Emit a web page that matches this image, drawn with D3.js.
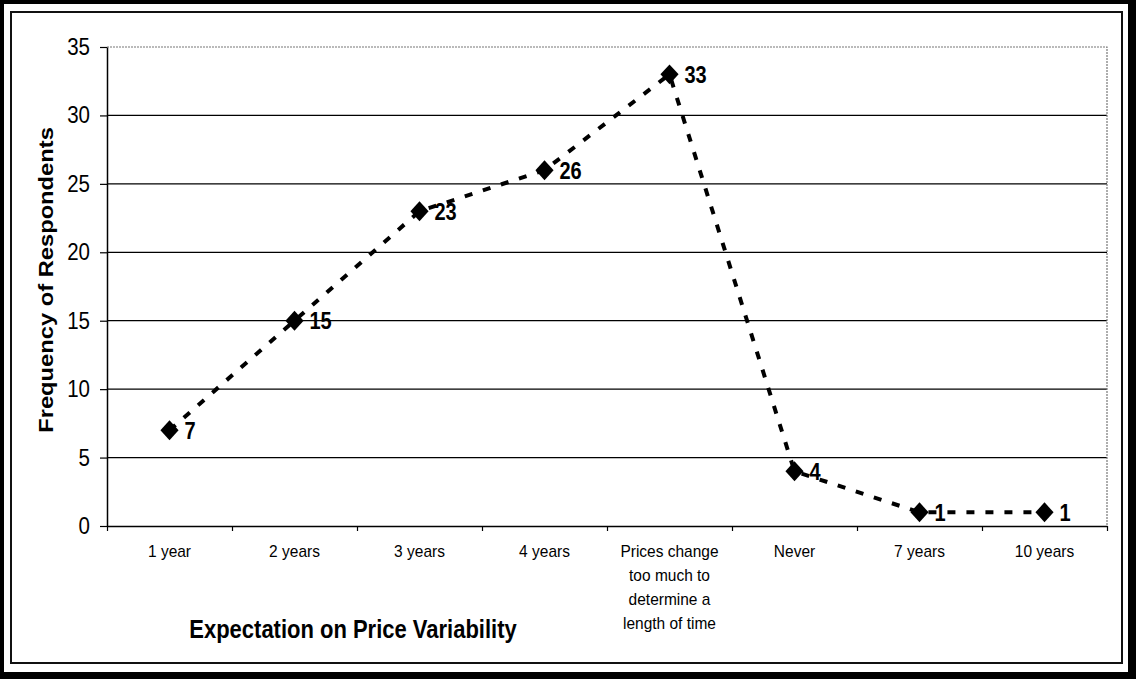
<!DOCTYPE html>
<html>
<head>
<meta charset="utf-8">
<script src="https://cdn.jsdelivr.net/npm/d3@7"></script>
<style>
  html, body { margin: 0; padding: 0; background: #fff; }
  svg { display: block; font-family: Arial, "Liberation Sans", sans-serif; }
</style>
</head>
<body>
<svg id="chart" width="1136" height="679"></svg>
<script>
// Survey responses: how long respondents expect prices to stay stable
const categories = [
  "1 year", "2 years", "3 years", "4 years",
  "Prices change\ntoo much to\ndetermine a\nlength of time",
  "Never", "7 years", "10 years"
];
const respondents = [7, 15, 23, 26, 33, 4, 1, 1];
const yTicks = [0, 5, 10, 15, 20, 25, 30, 35];
const xTitle = "Expectation on Price Variability";
const yTitle = "Frequency of Respondents";

const W = 1136, H = 679;
const plot = { left: 107, right: 1107, top: 47, bottom: 526 };
const stretch = 1.15; // glyphs are drawn slightly taller than wide

const svg = d3.select("#chart");

// Frame: heavy outer border with a thin inner rule
svg.append("rect").attr("x", 0).attr("y", 0).attr("width", W).attr("height", H).attr("fill", "#000");
svg.append("rect").attr("x", 4).attr("y", 4).attr("width", 1124).attr("height", 668).attr("fill", "#fff");
svg.append("rect").attr("x", 11).attr("y", 12).attr("width", 1111).attr("height", 651)
  .attr("fill", "none").attr("stroke", "#111").attr("stroke-width", 2);

const x = d3.scaleBand().domain(categories).range([plot.left, plot.right]).padding(0);
const xEdges = d3.scaleLinear().domain([0, categories.length]).range([plot.left, plot.right]);
const y = d3.scaleLinear().domain([0, 35]).range([plot.bottom, plot.top]);

// Horizontal gridlines
svg.append("g")
  .selectAll("line")
  .data(yTicks.filter(t => t > 0 && t < 35))
  .join("line")
  .attr("x1", plot.left).attr("x2", plot.right)
  .attr("y1", d => y(d)).attr("y2", d => y(d))
  .attr("stroke", "#000").attr("stroke-width", 1.2);

// Plot-area border on top and right (light dotted)
svg.append("path")
  .attr("d", `M${plot.left},${y(35)}H${plot.right}V${plot.bottom}`)
  .attr("fill", "none").attr("stroke", "#777").attr("stroke-width", 1.2)
  .attr("stroke-dasharray", "2,1");

// Y axis
const yAxis = svg.append("g")
  .attr("transform", `translate(${plot.left},0)`)
  .call(d3.axisLeft(y).tickValues(yTicks).tickSize(7).tickPadding(10).tickSizeOuter(0));
yAxis.select(".domain").attr("stroke", "#000").attr("stroke-width", 1.5);
yAxis.selectAll(".tick line").attr("stroke", "#000").attr("stroke-width", 1.2);
yAxis.selectAll(".tick text")
  .attr("font-size", 20.5).attr("fill", "#000")
  .attr("font-family", 'Arial, "Liberation Sans", sans-serif')
  .attr("dy", "0.32em")
  .attr("transform", `scale(1,${stretch})`)
  .attr("y", 0);

// X axis: baseline with boundary ticks
const xEdgeAxis = svg.append("g")
  .attr("transform", `translate(0,${plot.bottom})`)
  .call(d3.axisBottom(xEdges).tickValues(d3.range(categories.length + 1))
    .tickFormat("").tickSize(5).tickSizeOuter(0));
xEdgeAxis.select(".domain").attr("stroke", "#000").attr("stroke-width", 1.5);
xEdgeAxis.selectAll(".tick line").attr("stroke", "#000").attr("stroke-width", 1.2);

// X axis: category labels centred in each band
const xLabelAxis = svg.append("g")
  .attr("transform", `translate(0,${plot.bottom})`)
  .call(d3.axisBottom(x).tickSize(0).tickPadding(0));
xLabelAxis.select(".domain").remove();
xLabelAxis.selectAll(".tick text").each(function (d) {
  const t = d3.select(this);
  const lines = d.split("\n");
  t.text(null)
    .attr("y", 0).attr("dy", null)
    .attr("font-size", 15.5).attr("fill", "#000")
    .attr("font-family", 'Arial, "Liberation Sans", sans-serif')
    .attr("transform", `translate(0,31) scale(1,1.12)`);
  lines.forEach((ln, i) => {
    t.append("tspan").attr("x", 0).attr("dy", i === 0 ? 0 : 24 / 1.12).text(ln);
  });
});

// Dashed series line joining the points
const pts = categories.map((c, i) => [x(c) + x.bandwidth() / 2, y(respondents[i])]);
svg.append("path")
  .datum(pts)
  .attr("d", d3.line().curve(d3.curveLinear))
  .attr("fill", "none").attr("stroke", "#000")
  .attr("stroke-width", 4).attr("stroke-dasharray", "8,11");

// Diamond markers
svg.append("g")
  .selectAll("path")
  .data(pts)
  .join("path")
  .attr("d", d3.symbol(d3.symbolSquare, 165))
  .attr("transform", d => `translate(${d[0]},${d[1]}) scale(1,1.1) rotate(45)`)
  .attr("fill", "#000");

// Value labels
svg.append("g")
  .selectAll("text")
  .data(pts)
  .join("text")
  .attr("transform", d => `translate(${d[0] + 15},${d[1]}) scale(1,${stretch})`)
  .attr("y", 7.5)
  .attr("font-size", 20).attr("font-weight", "bold").attr("fill", "#000")
  .text((d, i) => respondents[i]);

// Axis titles
svg.append("text")
  .attr("transform", `translate(353,638) scale(1,${stretch})`)
  .attr("text-anchor", "middle")
  .attr("font-size", 22).attr("font-weight", "bold").attr("fill", "#000")
  .text(xTitle);

svg.append("text")
  .attr("transform", `translate(53,280) rotate(-90) scale(1.13,1)`)
  .attr("text-anchor", "middle")
  .attr("font-size", 21).attr("font-weight", "bold").attr("fill", "#000")
  .text(yTitle);
</script>
</body>
</html>
